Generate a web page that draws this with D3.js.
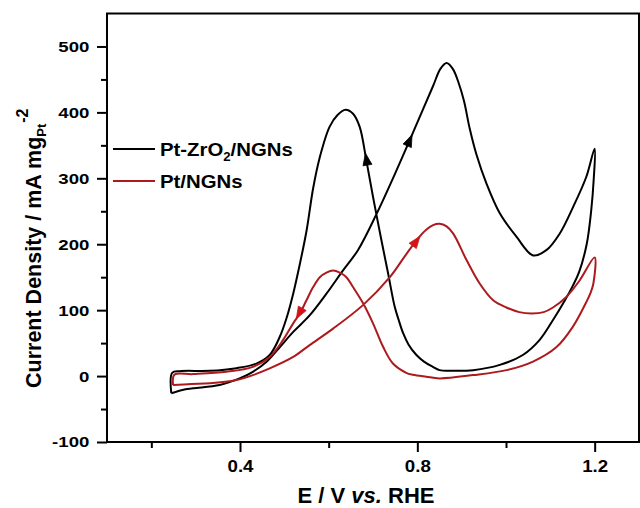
<!DOCTYPE html>
<html>
<head>
<meta charset="utf-8">
<script src="https://cdn.jsdelivr.net/npm/d3@7"></script>
<style>
  html, body { margin: 0; padding: 0; background: #fff; }
  svg { display: block; }
  text { font-family: "Liberation Sans", Arial, Helvetica, sans-serif; font-weight: bold; }
</style>
</head>
<body>
<svg id="chart" width="640" height="508"></svg>
<script>
// ---------------- data ----------------
const seriesNames = ["Pt-ZrO2/NGNs", "Pt/NGNs"];

// Pt-ZrO2/NGNs: forward scan then reverse scan (potential V, current mA/mg)
const ptZrE = [0.245,0.270,0.294,0.354,0.399,0.429,0.460,0.490,0.520,0.557,0.595,0.632,0.666,0.708,0.753,0.783,0.813,0.8355,0.852,0.866,0.880,0.893,0.905,0.918,0.933,0.956,0.986,1.024,1.061,1.091,1.121,1.151,1.181,1.200,
  1.198,1.192,1.182,1.165,1.150,1.133,1.106,1.076,1.038,0.986,0.926,0.880,0.850,0.835,0.815,0.798,0.780,0.768,0.758,0.749,0.734,0.719,0.700,0.685,0.670,0.655,0.638,0.620,0.602,0.580,0.565,0.550,0.535,0.520,0.505,0.490,0.467,0.437,0.392,0.332,0.264,0.247,0.245];
const ptZrJ = [-26,-21,-18.6,-13.6,-3.5,6.5,21.7,44,67,92,125,160,191,246,312,358,405,440,466,475,466,445,418,376,337,292,247,211,183,191,216,256,302,345,
  300,250,200,158,136,115,85,55,32,17,9,8,9,14,22,32,48,65,85,105,156,206,272,327,378,398,404,396,378,332,285,220,170,125,88,60,32,19,12,8,7.5,5,-26];

// Pt/NGNs
const ptE = [0.249,0.290,0.332,0.392,0.429,0.467,0.520,0.557,0.610,0.678,0.738,0.770,0.798,0.820,0.8355,0.850,0.866,0.881,0.911,0.941,0.971,1.001,1.030,1.058,1.085,1.106,1.136,1.166,1.200,
  1.197,1.190,1.181,1.151,1.114,1.061,1.001,0.926,0.850,0.820,0.790,0.775,0.745,0.723,0.700,0.678,0.655,0.640,0.625,0.610,0.595,0.580,0.565,0.550,0.535,0.520,0.497,0.467,0.429,0.369,0.294,0.252,0.249];
const ptJ = [-13.6,-12,-11,-6,1.5,11.6,29,47,72,108,150,180,206,222,229,231,227,216,176,140,115,104,97,95,97,104,120,145,180,
  140,125,112,75,44,22,9,1.5,-3.5,-1,2,5,19,44,80,110,135,150,157,160,157,150,135,115,95,80,54.5,29,14,6.5,3,2,-13.6];

// scan-direction arrows: tip point and a point behind it on the curve
const arrowSeries = [0, 0, 1, 1];
const arrowTipE  = [0.683, 0.788, 0.806, 0.527];
const arrowTipJ  = [338, 366, 212, 87];
const arrowFromE = [0.697, 0.768, 0.780, 0.545];
const arrowFromJ = [282, 335, 189, 108];

const yMajor = [-100, 0, 100, 200, 300, 400, 500];
const yMinor = [-50, 50, 150, 250, 350, 450];
const xMajor = [0.4, 0.8, 1.2];
const xMinor = [0.2, 0.6, 1.0];

// ---------------- drawing ----------------
const colors = ["#000000", "#ac1a1e"];
const arrowColors = ["#000000", "#d01418"];

const svg = d3.select("#chart");
const L = 107, R = 639, T = 13.5, B = 442;
const x = d3.scaleLinear().domain([0.1, 1.3]).range([L, R]);
const y = d3.scaleLinear().domain([-100, 550]).range([B, T]);

// axes
const yAx = svg.append("g").attr("transform", `translate(${L},0)`)
  .call(d3.axisLeft(y).tickValues(yMajor).tickSize(10).tickFormat(d => String(d)));
const yAxMin = svg.append("g").attr("transform", `translate(${L},0)`)
  .call(d3.axisLeft(y).tickValues(yMinor).tickSize(6).tickFormat(""));
const xAx = svg.append("g").attr("transform", `translate(0,${B})`)
  .call(d3.axisBottom(x).tickValues(xMajor).tickSize(10).tickFormat(d3.format(".1f")));
const xAxMin = svg.append("g").attr("transform", `translate(0,${B})`)
  .call(d3.axisBottom(x).tickValues(xMinor).tickSize(6).tickFormat(""));
[yAx, yAxMin, xAx, xAxMin].forEach(g => {
  g.select(".domain").remove();
  g.selectAll("line").attr("stroke", "#000").attr("stroke-width", 2);
  g.selectAll("text").attr("fill", "#000")
    .attr("font-family", "'Liberation Sans', Arial, sans-serif").attr("font-weight", "bold");
});
// y tick labels: slightly wide lettering as in the reference
const ySx = 1.2;
yAx.selectAll("text").attr("font-size", 15.5)
  .attr("x", -17.7 / ySx).attr("transform", `scale(${ySx},1)`);
const xSx = 1.1;
xAx.selectAll("text").attr("font-size", 17).attr("y", 30).attr("dy", 0)
  .attr("transform", `scale(${xSx},1)`);

// frame
svg.append("rect").attr("x", L).attr("y", T).attr("width", R - L).attr("height", B - T)
  .attr("fill", "none").attr("stroke", "#000").attr("stroke-width", 2);

// curves
const line = d3.line().x(d => x(d[0])).y(d => y(d[1])).curve(d3.curveCatmullRom.alpha(0.5));
const curves = [d3.zip(ptZrE, ptZrJ), d3.zip(ptE, ptJ)];
curves.forEach((pts, i) => {
  svg.append("path").datum(pts).attr("d", line)
    .attr("fill", "none").attr("stroke", colors[i]).attr("stroke-width", 2)
    .attr("stroke-linejoin", "round");
});

// arrows
arrowSeries.forEach((s, i) => {
  const tx = x(arrowTipE[i]), ty = y(arrowTipJ[i]);
  const fx = x(arrowFromE[i]), fy = y(arrowFromJ[i]);
  const ang = Math.atan2(ty - fy, tx - fx);
  const len = 12, hw = 4.5;
  const bx = tx - len * Math.cos(ang), by = ty - len * Math.sin(ang);
  const px = -Math.sin(ang), py = Math.cos(ang);
  const p = [[tx, ty], [bx + hw * px, by + hw * py], [bx - hw * px, by - hw * py]];
  svg.append("path").attr("d", "M" + p.map(q => q.join(",")).join("L") + "Z")
    .attr("fill", arrowColors[s]).attr("stroke", arrowColors[s]).attr("stroke-width", 0.8);
});

// legend
const legY = [149, 181];
const legG = svg.append("g");
seriesNames.forEach((n, i) => {
  legG.append("line").attr("x1", 113).attr("x2", 155).attr("y1", legY[i]).attr("y2", legY[i])
    .attr("stroke", colors[i]).attr("stroke-width", 2);
});
const lSx = 1.1;
const t1 = legG.append("text").attr("transform", `translate(160,${legY[0] + 7}) scale(${lSx},1)`)
  .attr("font-size", 18.5).attr("fill", "#000");
t1.append("tspan").text("Pt-ZrO");
t1.append("tspan").attr("font-size", 12).attr("dy", 5).text("2");
t1.append("tspan").attr("dy", -5).text("/NGNs");
legG.append("text").attr("transform", `translate(160,${legY[1] + 7}) scale(${lSx},1)`)
  .attr("font-size", 18.5).attr("fill", "#000").text("Pt/NGNs");

// y title
const yt = svg.append("text").attr("transform", "translate(40.5,388) rotate(-90)")
  .attr("font-size", 21.5).attr("fill", "#000");
yt.append("tspan").text("Current Density / mA mg");
yt.append("tspan").attr("font-size", 13).attr("dy", 5).text("Pt");
yt.append("tspan").attr("font-size", 16).attr("dy", -18).attr("dx", 1).text("-2");

// x title
const xt = svg.append("text").attr("x", 366).attr("y", 503).attr("text-anchor", "middle")
  .attr("font-size", 22).attr("fill", "#000");
xt.append("tspan").text("E / V ");
xt.append("tspan").attr("font-style", "italic").text("vs.");
xt.append("tspan").text(" RHE");
</script>
</body>
</html>
